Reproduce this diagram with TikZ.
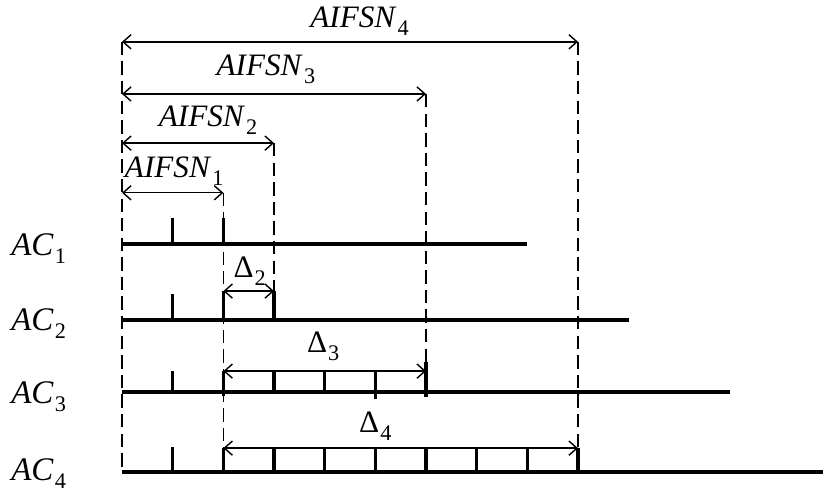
\documentclass[tikz,border=0pt]{standalone}
\usepackage{fontspec}
\setmainfont{Liberation Serif}
\usetikzlibrary{arrows.meta}

\newcommand{\withsub}[2]{#1\kern0.6pt\raisebox{-4.5pt}{\fontsize{12.5}{14}\selectfont #2}}

\begin{document}
\begin{tikzpicture}[
	rowline/.style={line width=2pt},
	guide/.style={line width=0.9pt, dash pattern=on 7.5pt off 3.5pt},
	span/.style={line width=0.8pt, {Straight Barb[length=4.5pt,width=8pt]}-{Straight Barb[length=4.5pt,width=8pt]}},
	lbl/.style={inner sep=0pt, anchor=base, font=\fontsize{17.5}{20}\selectfont},
	rowlbl/.style={inner sep=0pt, anchor=base east, font=\fontsize{18.5}{21}\selectfont}
]
	\useasboundingbox (-2.408,-0.493) rectangle (13.835,9.315);

	% the four rows
	\coordinate (ac1) at (0,4.5);
	\coordinate (ac2) at (0,3);
	\coordinate (ac3) at (0,1.58);
	\coordinate (ac4) at (0,0);
	\draw[rowline] (ac1) -- ++(8,0);
	\draw[rowline] (ac2) -- ++(10,0);
	\draw[rowline] (ac3) -- ++(12,0);
	\draw[rowline] (ac4) -- ++(13.835,0);

	\node[rowlbl] (lac1) at (-1.1,4.28) {\withsub{\textit{AC}}{1}};
	\node[rowlbl] (lac2) at (-1.1,2.8) {\withsub{\textit{AC}}{2}};
	\node[rowlbl] (lac3) at (-1.1,1.36) {\withsub{\textit{AC}}{3}};
	\node[rowlbl] (lac4) at (-1.1,-0.16) {\withsub{\textit{AC}}{4}};

	% AIFSN spans
	\coordinate (a1) at (0,5.51);
	\coordinate (a2) at (0,6.49);
	\coordinate (a3) at (0,7.46);
	\coordinate (a4) at (0,8.49);
	\draw[span] (a1) -- ++(2,0) coordinate (b1);
	\draw[span] (a2) -- ++(3,0) coordinate (b2);
	\draw[span] (a3) -- ++(6,0) coordinate (b3);
	\draw[span] (a4) -- ++(9,0) coordinate (b4);

	\node[lbl] (n1) at (1.03,5.82) {\withsub{\textit{AIFSN}}{1}};
	\node[lbl] (n2) at (1.70,6.81) {\withsub{\textit{AIFSN}}{2}};
	\node[lbl] (n3) at (2.84,7.83) {\withsub{\textit{AIFSN}}{3}};
	\node[lbl] (n4) at (4.69,8.78) {\withsub{\textit{AIFSN}}{4}};

	% dashed guides
	\draw[guide] (a4) -- (ac4);
	\draw[guide] (b1) -- (2,0);
	\draw[guide] (b2) -- (3,3.57);
	\draw[guide] (b3) -- (6,1.58);
	\draw[guide] (b4) -- (9,0.47);

	% Delta spans
	\draw[span] (2,3.57) coordinate (d2) -- ++(1,0);
	\draw[span] (2,1.99) coordinate (d3) -- ++(4,0);
	\draw[span] (2,0.47) coordinate (d4) -- ++(7,0);

	\node[lbl] (m2) at (2.52,3.83) {\withsub{Δ}{2}};
	\node[lbl] (m3) at (3.97,2.35) {\withsub{Δ}{3}};
	\node[lbl] (m4) at (5.0,0.77) {\withsub{Δ}{4}};

	% ticks
	\draw[rowline] (1,4.5) -- ++(0,0.51) (2,4.5) -- ++(0,0.51);
	\draw[rowline] (1,3) -- ++(0,0.51) (2,3) -- ++(0,0.57) (3,3) -- ++(0,0.57);
	\draw[rowline] (1,1.58) -- ++(0,0.41) (2,1.5) -- ++(0,0.49) (3,1.58) -- ++(0,0.41) (4,1.58) -- ++(0,0.41) (5,1.44) -- ++(0,0.55) (6,1.48) -- ++(0,0.69);
	\draw[rowline] (1,0) -- ++(0,0.49) (2,0) -- ++(0,0.47) (3,0) -- ++(0,0.47) (4,0) -- ++(0,0.47) (5,0) -- ++(0,0.47) (6,0) -- ++(0,0.47) (7,0) -- ++(0,0.47) (8,0) -- ++(0,0.47) (9,0) -- ++(0,0.47);
\end{tikzpicture}
\end{document}
